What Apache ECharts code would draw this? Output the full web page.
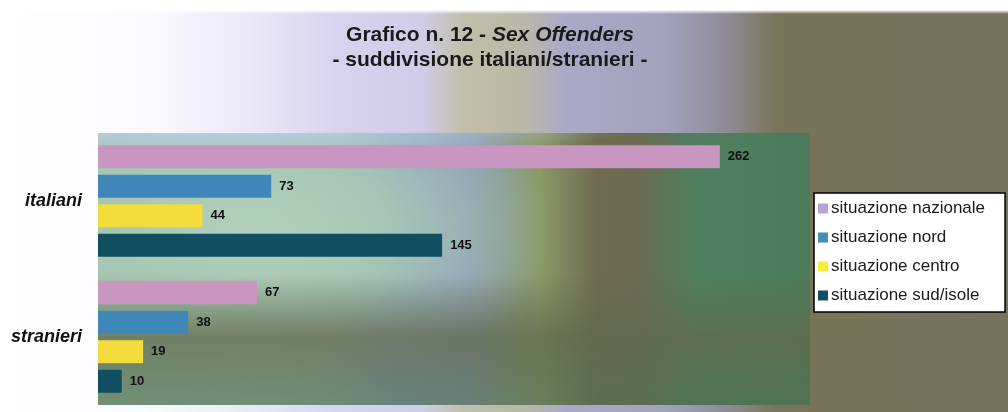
<!DOCTYPE html>
<html>
<head>
<meta charset="utf-8">
<script src="https://cdn.jsdelivr.net/npm/echarts@6/dist/echarts.min.js"></script>
<style>
html,body{margin:0;padding:0;}
body{
  width:1008px;height:412px;overflow:hidden;position:relative;
  background:
    linear-gradient(to bottom, #ffffff 0px, #ffffff 10px, rgba(255,255,255,0) 14px),
    linear-gradient(to right, #ffffff 0%, #fbfbfe 14%, #e8e6f6 26%, #d8d4f0 33%, #d0cce8 42%, #c0bfa9 46%, #b9b8a8 52%, #aca9c8 56%, #a4a1be 66%, #8f8c98 72%, #787459 77%, #76735b 100%);
}
#panel{
  position:absolute;left:98px;top:133px;width:712px;height:272px;
  background:
    radial-gradient(ellipse 60% 7% at 15% 0%, rgba(190,205,235,0.85) 0%, rgba(190,205,235,0) 100%),
    linear-gradient(to bottom, rgba(95,105,75,0) 52%, rgba(95,105,75,0.75) 75%, rgba(80,110,80,0.6) 100%),
    radial-gradient(ellipse 42% 60% at 22% 35%, rgba(178,208,188,1) 0%, rgba(168,200,180,0.9) 45%, rgba(168,200,180,0) 100%),
    linear-gradient(to right, #a3c4b0 0%, #a0bcb0 30%, #8fa2c2 42%, #8a9ab8 52%, #8a9a68 62%, #6e6b50 70%, #6a6b50 76%, #4f7f5f 84%, #4c7b5b 100%);
}
#chart{position:absolute;left:0;top:0;width:1008px;height:412px;}
</style>
</head>
<body>
<div id="panel"></div>
<div id="chart"></div>
<script>
const categories = ['italiani', 'stranieri'];
const seriesNames = ['situazione nazionale', 'situazione nord', 'situazione centro', 'situazione sud/isole'];
const nazionale = [262, 67];
const nord = [73, 38];
const centro = [44, 19];
const sudIsole = [145, 10];
const seriesValues = [nazionale, nord, centro, sudIsole];
const colors = ['#c896c0', '#3f87b9', '#f3dc3c', '#0f4f5f'];
const legendColors = ['#b9a2da', '#3f8fb9', '#f5ec3e', '#104f60'];

const chart = echarts.init(document.getElementById('chart'), null, {renderer: 'canvas'});

const option = {
  animation: false,
  title: {
    left: 485,
    top: 18,
    textAlign: 'center',
    text: '{a|Grafico n. 12 - }{b|Sex Offenders}\n{a|- suddivisione italiani/stranieri -}',
    textStyle: {
      rich: {
        a: {fontFamily: 'Liberation Sans, Arial, sans-serif', fontWeight: 'bold', fontSize: 21, color: '#1a1a1a', lineHeight: 25},
        b: {fontFamily: 'Liberation Sans, Arial, sans-serif', fontWeight: 'bold', fontStyle: 'italic', fontSize: 21, color: '#1a1a1a', lineHeight: 25}
      }
    }
  },
  legend: {
    orient: 'vertical',
    left: 814,
    top: 193,
    backgroundColor: '#ffffff',
    borderColor: '#000000',
    borderWidth: 1.5,
    borderRadius: 0,
    padding: [7, 20, 8, 4],
    itemWidth: 10,
    itemHeight: 10,
    itemGap: 12,
    icon: 'rect',
    textStyle: {fontFamily: 'Liberation Sans, Arial, sans-serif', fontSize: 17, color: '#1a1a1a', padding: [0, 0, 0, -2]},
    data: seriesNames.map((n, i) => ({name: n, itemStyle: {color: legendColors[i]}}))
  },
  grid: {
    left: 98, right: 198, top: 133, bottom: 7,
    show: false
  },
  xAxis: {
    type: 'value', min: 0, max: 300,
    show: false
  },
  yAxis: {
    type: 'category',
    data: categories,
    inverse: true,
    axisLine: {show: false},
    axisTick: {show: false},
    axisLabel: {
      margin: 16,
      fontFamily: 'Liberation Sans, Arial, sans-serif',
      fontWeight: 'bold', fontStyle: 'italic', fontSize: 18, color: '#111'
    }
  },
  series: seriesNames.map((name, i) => ({
    name: name,
    type: 'bar',
    data: seriesValues[i],
    barCategoryGap: '18%',
    barGap: '28%',
    itemStyle: {color: colors[i]},
    label: {
      show: true,
      position: 'right',
      distance: 8,
      fontFamily: 'Liberation Sans, Arial, sans-serif',
      fontWeight: 'bold',
      fontSize: 13,
      color: '#111'
    }
  }))
};
chart.setOption(option);
</script>
</body>
</html>
